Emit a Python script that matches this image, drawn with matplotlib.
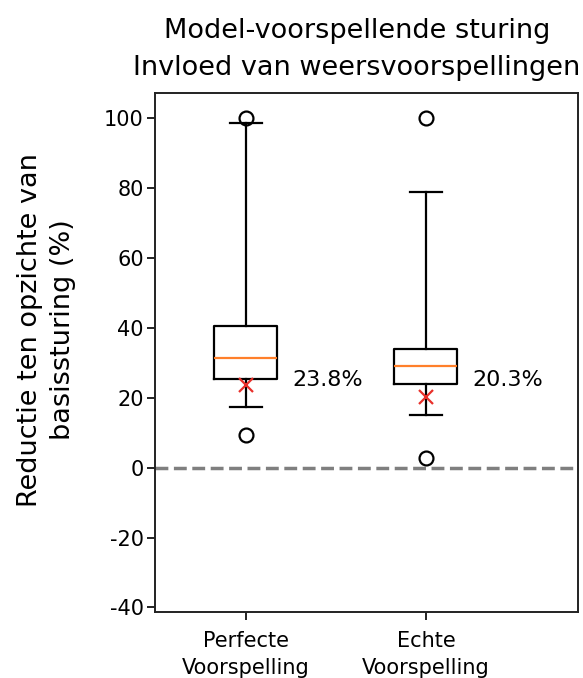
import matplotlib
matplotlib.use("Agg")
import matplotlib.pyplot as plt

plt.rcParams['font.family'] = ['DejaVu Sans']
plt.rcParams['axes.unicode_minus'] = False

# Box statistics per scenario (% reduction relative to baseline control)
labels = ["Perfecte\nVoorspelling", "Echte\nVoorspelling"]
q1 = [25.5, 24.0]
medians = [31.5, 29.0]
q3 = [40.5, 34.1]
whisker_low = [17.5, 15.1]
whisker_high = [98.7, 78.9]
means = [23.8, 20.3]
outliers = [[100.0, 9.4], [100.0, 2.7]]
mean_labels = ["23.8%", "20.3%"]

stats = []
for i, lab in enumerate(labels):
    stats.append(dict(label=lab, q1=q1[i], med=medians[i], q3=q3[i],
                      whislo=whisker_low[i], whishi=whisker_high[i],
                      mean=means[i], fliers=outliers[i]))

fig = plt.figure(figsize=(5.83, 6.78), dpi=100)
ax = fig.add_axes([0.2659, 0.0978, 0.7255, 0.7646])

lw = 1.6
positions = [1, 2]
ax.bxp(stats, positions=positions, widths=0.35, showmeans=True,
       boxprops=dict(color='black', linewidth=lw),
       whiskerprops=dict(color='black', linewidth=lw),
       capprops=dict(color='black', linewidth=lw),
       medianprops=dict(color='#ff7f2a', linewidth=lw),
       meanprops=dict(marker='x', markeredgecolor='#e8302a', markersize=10,
                      markeredgewidth=1.6, linestyle='none'),
       flierprops=dict(marker='o', markerfacecolor='none', markeredgecolor='black',
                       markersize=10, markeredgewidth=1.6))

ax.axhline(0, color='#7f7f7f', linewidth=2.5, linestyle='--', zorder=0)

for p, txt in zip(positions, mean_labels):
    ax.text(p + 0.26, 25.2, txt, fontsize=16, va='center', ha='left')

ax.set_xlim(0.495, 2.845)
ax.set_ylim(-41.2, 107.2)
ax.set_yticks([-40, -20, 0, 20, 40, 60, 80, 100])
ax.set_xticks(positions)
ax.set_xticklabels(labels, linespacing=1.45)
ax.tick_params(axis='both', labelsize=15, length=6, width=1.4, color='#222222')
ax.tick_params(axis='x', pad=8)
ax.tick_params(axis='y', pad=2)
for s in ax.spines.values():
    s.set_linewidth(1.4)
    s.set_color('#222222')

fig.text(357 / 583, 1 - 38 / 678, "Model-voorspellende sturing",
         ha='center', va='baseline', fontsize=19.5)
fig.text(357 / 583, 1 - 75 / 678, "Invloed van weersvoorspellingen",
         ha='center', va='baseline', fontsize=19.5)
fig.text(47 / 583, 1 - 330 / 678, "Reductie ten opzichte van\nbasissturing (%)",
         ha='center', va='center', rotation=90, fontsize=19.5, linespacing=1.35)

fig.savefig("out.png", dpi=100)
